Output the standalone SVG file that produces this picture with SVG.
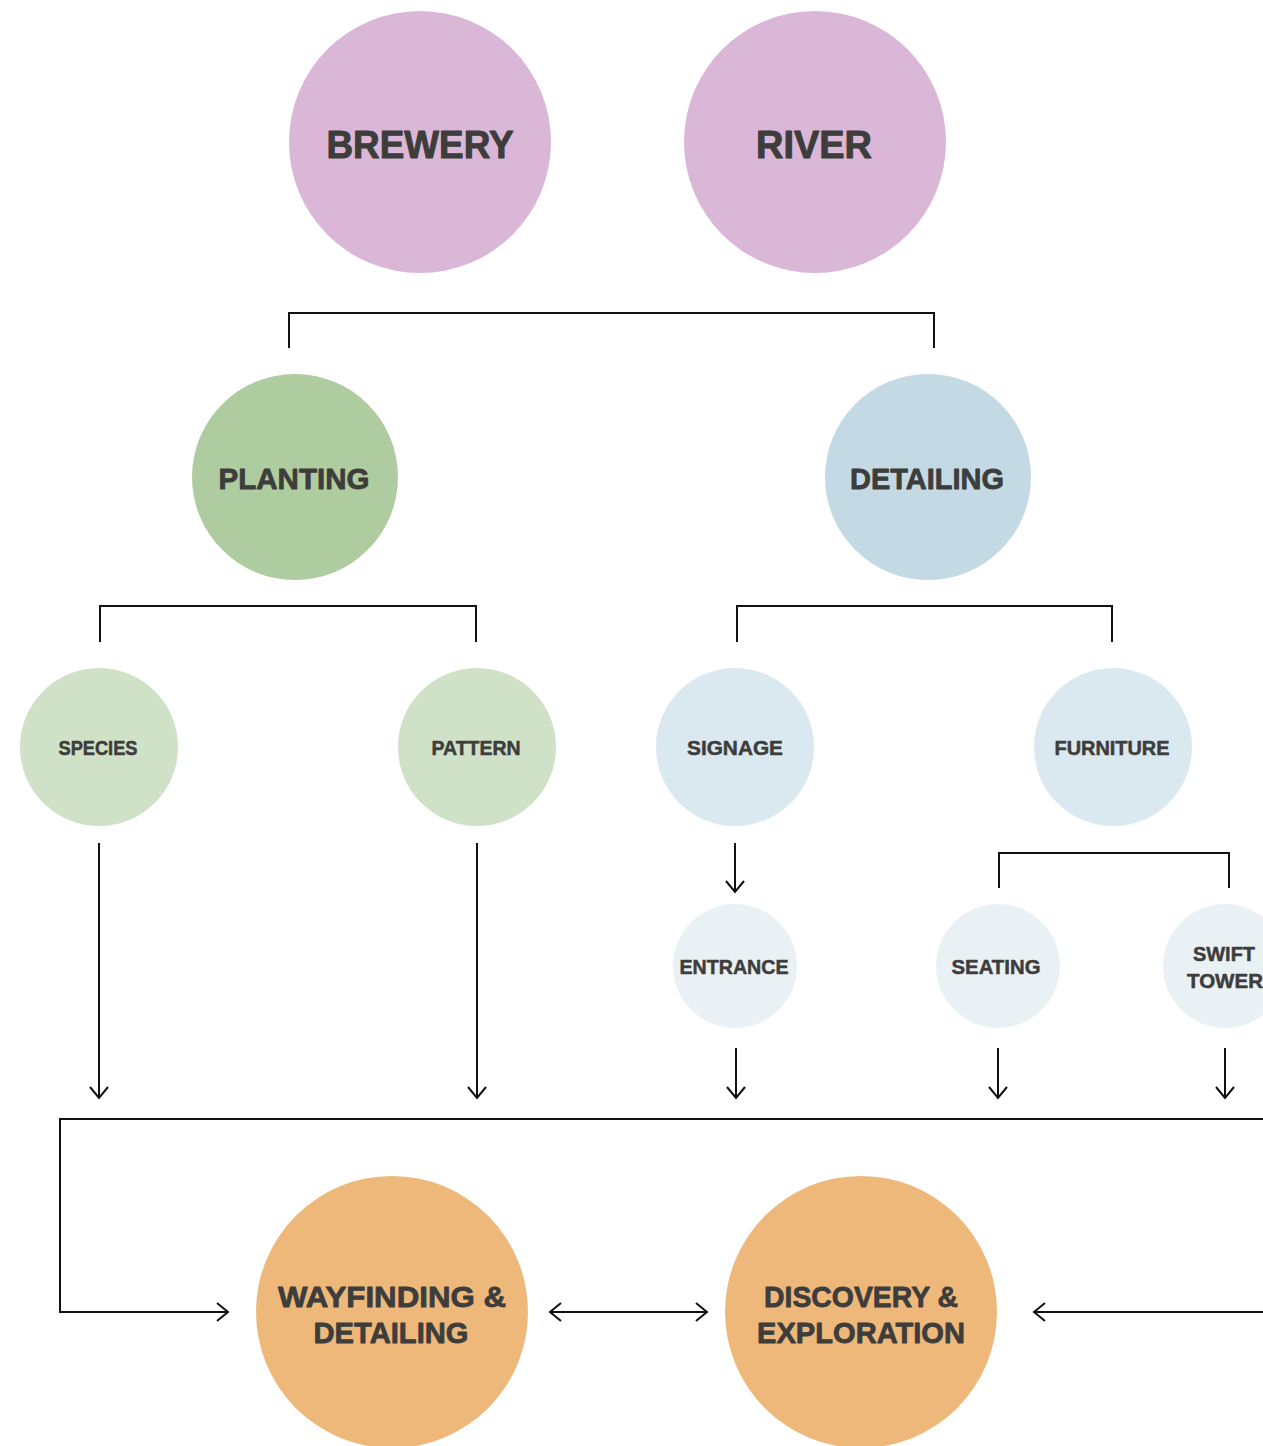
<svg xmlns="http://www.w3.org/2000/svg" width="1263" height="1446" viewBox="0 0 1263 1446">
<style>
.t{font-family:"Liberation Sans",Arial,sans-serif;font-weight:bold;fill:#3d3d3b;text-anchor:middle;stroke:#3d3d3b;stroke-linejoin:round}
.xl{font-size:39px;stroke-width:1}
.l{font-size:30px;stroke-width:0.8}
.s{font-size:20px;stroke-width:0.5}
.b{font-size:30px;stroke-width:0.8}
.c{fill:none;stroke:#111;stroke-width:2}
</style>
<defs>
<marker id="ah" markerUnits="userSpaceOnUse" markerWidth="20" markerHeight="20" refX="12" refY="10" orient="auto-start-reverse">
<path d="M1,1 L12,10 L1,19" fill="none" stroke="#111" stroke-width="2"/>
</marker>
</defs>
<rect width="1263" height="1446" fill="#fff"/>
<g id="connectors">
<polyline class="c" points="289,348 289,313 934,313 934,348"/>
<polyline class="c" points="100,642 100,606 476,606 476,642"/>
<polyline class="c" points="737,642 737,606 1112,606 1112,642"/>
<polyline class="c" points="999,888 999,853 1229,853 1229,888"/>
<line class="c" x1="735" y1="843" x2="735" y2="892" marker-end="url(#ah)"/>
<line class="c" x1="99" y1="843" x2="99" y2="1098" marker-end="url(#ah)"/>
<line class="c" x1="477" y1="843" x2="477" y2="1098" marker-end="url(#ah)"/>
<line class="c" x1="736" y1="1048" x2="736" y2="1098" marker-end="url(#ah)"/>
<line class="c" x1="998" y1="1048" x2="998" y2="1098" marker-end="url(#ah)"/>
<line class="c" x1="1225" y1="1048" x2="1225" y2="1098" marker-end="url(#ah)"/>
<polyline class="c" points="1264,1119 60,1119 60,1312 228,1312" marker-end="url(#ah)"/>
<line class="c" x1="550" y1="1312" x2="707" y2="1312" marker-start="url(#ah)" marker-end="url(#ah)"/>
<line class="c" x1="1264" y1="1312" x2="1034" y2="1312" marker-end="url(#ah)"/>
</g>
<g id="brewery"><circle cx="420" cy="142" r="131" fill="#dab6d7"/><text class="t xl" x="420" y="158" textLength="187" lengthAdjust="spacingAndGlyphs">BREWERY</text></g>
<g id="river"><circle cx="815" cy="142" r="131" fill="#dab6d7"/><text class="t xl" x="814" y="158" textLength="116" lengthAdjust="spacingAndGlyphs">RIVER</text></g>
<g id="planting"><circle cx="295" cy="477" r="103" fill="#afcca0"/><text class="t l" x="294" y="489" textLength="151" lengthAdjust="spacingAndGlyphs">PLANTING</text></g>
<g id="detailing"><circle cx="928" cy="477" r="103" fill="#c3d9e3"/><text class="t l" x="927" y="489" textLength="154" lengthAdjust="spacingAndGlyphs">DETAILING</text></g>
<g id="species"><circle cx="99" cy="747" r="79" fill="#cfe1c7"/><text class="t s" x="98" y="755" textLength="79" lengthAdjust="spacingAndGlyphs">SPECIES</text></g>
<g id="pattern"><circle cx="477" cy="747" r="79" fill="#cfe1c7"/><text class="t s" x="476" y="755" textLength="89" lengthAdjust="spacingAndGlyphs">PATTERN</text></g>
<g id="signage"><circle cx="735" cy="747" r="79" fill="#dae8ef"/><text class="t s" x="735" y="755" textLength="96" lengthAdjust="spacingAndGlyphs">SIGNAGE</text></g>
<g id="furniture"><circle cx="1113" cy="747" r="79" fill="#dae8ef"/><text class="t s" x="1112" y="755" textLength="115" lengthAdjust="spacingAndGlyphs">FURNITURE</text></g>
<g id="entrance"><circle cx="735" cy="966" r="62" fill="#eaf1f5"/><text class="t s" x="734" y="974" textLength="109" lengthAdjust="spacingAndGlyphs">ENTRANCE</text></g>
<g id="seating"><circle cx="998" cy="966" r="62" fill="#eaf1f5"/><text class="t s" x="996" y="974" textLength="89" lengthAdjust="spacingAndGlyphs">SEATING</text></g>
<g id="swift-tower"><circle cx="1225" cy="966" r="62" fill="#eaf1f5"/><text class="t s" x="1224" y="961" textLength="62" lengthAdjust="spacingAndGlyphs">SWIFT</text><text class="t s" x="1225" y="988" textLength="76" lengthAdjust="spacingAndGlyphs">TOWER</text></g>
<g id="wayfinding"><circle cx="392" cy="1312" r="136" fill="#eeb87b"/><text class="t b" x="392" y="1307" textLength="228" lengthAdjust="spacingAndGlyphs">WAYFINDING &amp;</text><text class="t b" x="391" y="1343" textLength="155" lengthAdjust="spacingAndGlyphs">DETAILING</text></g>
<g id="discovery"><circle cx="861" cy="1312" r="136" fill="#eeb87b"/><text class="t b" x="861" y="1307" textLength="194" lengthAdjust="spacingAndGlyphs">DISCOVERY &amp;</text><text class="t b" x="861" y="1343" textLength="208" lengthAdjust="spacingAndGlyphs">EXPLORATION</text></g>
</svg>
